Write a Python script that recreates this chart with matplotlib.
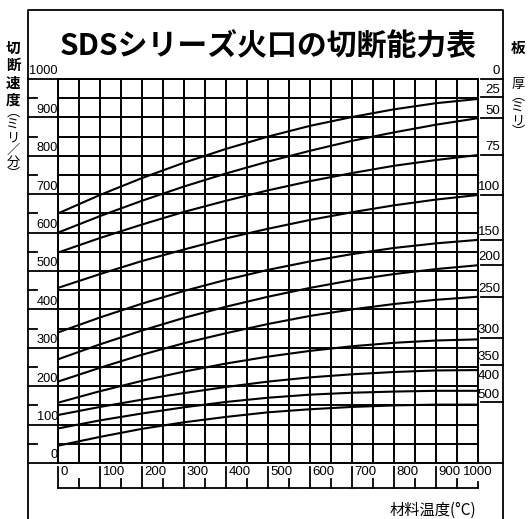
import numpy as np
import matplotlib
matplotlib.use("Agg")
import matplotlib.pyplot as plt
from matplotlib.transforms import blended_transform_factory

plt.rcParams['font.family'] = ['Noto Sans CJK JP', 'DejaVu Sans']

W, H = 531, 519

# material temperature (C) at which the curves were read
temps = [0, 100, 200, 300, 400, 500, 600, 700, 800, 900, 1000]

# cutting speed (mm/min) for each plate thickness
speed_25 = [650, 698, 742, 782, 818, 850, 878, 901, 921, 937, 948]
speed_50 = [600, 643, 683, 720, 754, 785, 813, 839, 861, 881, 898]
speed_75 = [548, 586, 621, 654, 683, 710, 734, 755, 774, 789, 802]
speed_100 = [456, 492, 526, 556, 585, 610, 633, 653, 671, 686, 698]
speed_150 = [340, 379, 415, 448, 477, 503, 525, 544, 560, 572, 581]
speed_200 = [270, 309, 345, 378, 407, 433, 456, 476, 492, 505, 515]
speed_250 = [212, 248, 282, 312, 338, 362, 383, 400, 414, 425, 433]
speed_300 = [157, 187, 214, 238, 259, 277, 292, 304, 313, 319, 322]
speed_350 = [125, 146, 165, 182, 198, 212, 223, 231, 237, 241, 242]
speed_400 = [90, 111, 129, 145, 159, 170, 178, 183, 186, 188, 188]
speed_500 = [45, 68, 89, 106, 120, 132, 140, 146, 150, 152, 152]

curves = [speed_25, speed_50, speed_75, speed_100, speed_150, speed_200,
          speed_250, speed_300, speed_350, speed_400, speed_500]

# right hand thickness scale (mm) and where each label sits
thick_labels = ['0', '25', '50', '75', '100', '150', '200', '250', '300', '350', '400', '500']
thick_pos = [1000, 953, 898, 802, 698, 581, 516, 433, 326, 256, 208, 158]

speed_ticks = list(range(0, 1001, 100))
temp_ticks = list(range(0, 1001, 100))

num_font = ['Liberation Sans', 'DejaVu Sans']

fig = plt.figure(figsize=(W / 100, H / 100), dpi=100)

# background axes in pixel units for the frame and titles
bg = fig.add_axes([0, 0, 1, 1])
bg.set_xlim(0, W)
bg.set_ylim(H, 0)
bg.axis('off')

ax = fig.add_axes([58 / W, 1 - 463 / H, 420 / W, 384 / H])
ax.set_facecolor('none')
ax.set_xticks(np.arange(0, 1001, 50))
ax.set_yticks(np.arange(0, 1001, 50))
ax.tick_params(length=0, labelbottom=False, labelleft=False)
ax.grid(True, color='black', lw=1.4)
for s in ax.spines.values():
    s.set_linewidth(1.4)

for c in curves:
    ax.plot(temps, c, color='black', lw=1.5)

ax.set_xlim(0, 1000)
ax.set_ylim(0, 1000)

ty = blended_transform_factory(bg.transData, ax.transData)
tx = blended_transform_factory(ax.transData, bg.transData)

# outer frame
bg.plot([28, 28, 503, 503], [H, 10, 10, H], color='black', lw=1.3)

# left speed scale
for v in speed_ticks:
    ax.plot([28, 57], [v, v], color='black', lw=1.3, transform=ty, clip_on=False)
    ax.text(58, v + 4, str(v), transform=ty, ha='right', va='bottom',
            fontsize=9.2, family=num_font)
for v in range(50, 1000, 100):
    ax.plot([28, 37], [v, v], color='black', lw=1.3, transform=ty, clip_on=False)

# right thickness scale
for lab, p in zip(thick_labels, thick_pos):
    if lab != '400':
        ax.plot([481, 503], [p, p], color='black', lw=1.3, transform=ty, clip_on=False)
    ax.text(500, p + 4, lab, transform=ty, ha='right', va='bottom',
            fontsize=9.5, family=num_font)
ax.plot([478, 503], [0, 0], color='black', lw=1.3, transform=ty, clip_on=False)

# bottom temperature scale
ax.plot([0, 1000], [488, 488], color='black', lw=1.3, transform=tx, clip_on=False)
for t in temp_ticks[:-1]:
    ax.plot([t, t], [467, 488], color='black', lw=1.3, transform=tx, clip_on=False)
    ax.text(t + 6, 472, str(t), transform=tx, ha='left', va='center',
            fontsize=9.5, family=num_font)
for t in range(50, 1001, 100):
    ax.plot([t, t], [479, 488], color='black', lw=1.3, transform=tx, clip_on=False)
ax.plot([1000, 1000], [482, 488], color='black', lw=1.3, transform=tx, clip_on=False)
ax.text(1000, 472, '1000', transform=tx, ha='center', va='center',
        fontsize=9.5, family=num_font)

# title and axis names
bg.text(268, 47, 'SDSシリーズ火口の切断能力表', ha='center', va='center',
        fontsize=21.5, fontweight='bold')
bg.text(476, 510, '材料温度(°C)', ha='right', va='center', fontsize=11)

# vertical (tategaki) axis names
bg.text(13, 40, '切\n断\n速\n度', ha='center', va='top', fontsize=10.5,
        fontweight='bold', linespacing=1.1)
bg.text(13, 106, '︵\nミ\nリ\n／\n分\n︶', ha='center', va='top', fontsize=9.5,
        linespacing=0.95)
bg.text(518, 48, '板', ha='center', va='center', fontsize=10.5, fontweight='bold')
bg.text(518, 78, '厚\n︵\nミ\nリ\n︶', ha='center', va='top', fontsize=9.5,
        linespacing=0.9)

fig.savefig('out.png', dpi=100)
